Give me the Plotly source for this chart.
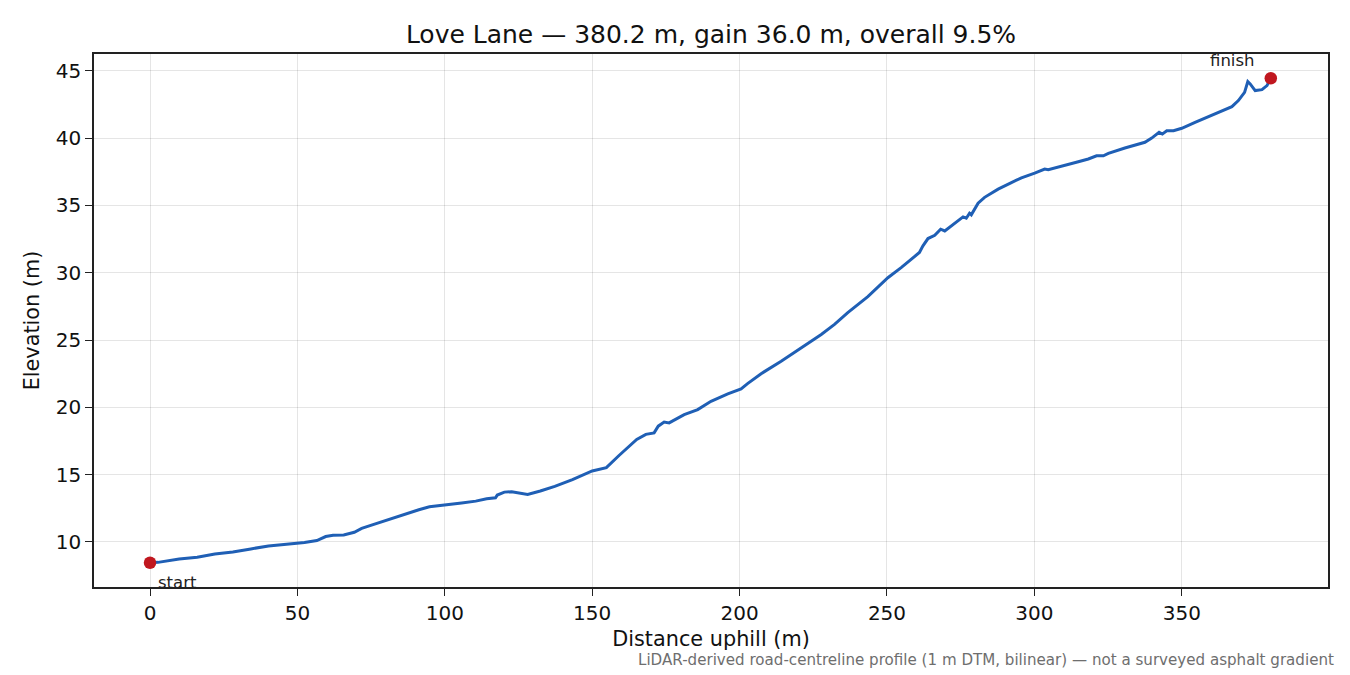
"""
Love Lane elevation profile (LiDAR road-centreline)
"""
import plotly.graph_objects as go

# distance along the road (m) and elevation (m)
dist_m = [0, 2.7, 9.9, 16, 22, 28.1, 34.2, 40.2, 46.3, 52.4,
          56.6, 59.6, 62.1, 65.7, 69.3, 71.8, 75.4, 81.5, 86.3, 91.2,
          94.8, 99.6, 105.7, 110.5, 114.2, 117.2, 117.8, 120.2, 122.7, 128.1,
          132.4, 137.3, 143.3, 150, 154.8, 159.1, 165.1, 168.2, 171, 172.4,
          174.4, 176.1, 181.2, 185.8, 190.3, 196, 200.5, 202.7, 207.3, 214.1,
          220.9, 227.7, 232.2, 236.7, 243.5, 248, 250.3, 254.8, 259.4, 261,
          262.2, 263.9, 266.2, 268.2, 269.6, 271.8, 274.1, 275.8, 276.9, 278,
          278.6, 280.9, 283.1, 287.7, 292.2, 295.6, 300.1, 303.5, 304.7, 310.3,
          314.9, 318.3, 321.1, 323.4, 325.1, 330.7, 337.5, 339.8, 342.3, 343.4,
          344.9, 347.2, 350.0, 354.5, 359.1, 362.5, 365.3, 367.0, 369.2, 371.3,
          372.4, 373.2, 374.9, 377.2, 378.9, 380.2]
elev_m = [8.45, 8.48, 8.73, 8.86, 9.1, 9.25, 9.48, 9.7, 9.83, 9.95,
          10.1, 10.4, 10.5, 10.52, 10.72, 11.0, 11.27, 11.7, 12.09, 12.39,
          12.61, 12.71, 12.89, 13.03, 13.21, 13.28, 13.48, 13.7, 13.73, 13.53,
          13.78, 14.13, 14.63, 15.27, 15.52, 16.42, 17.61, 17.99, 18.1, 18.6,
          18.9, 18.84, 19.46, 19.83, 20.45, 21.0, 21.37, 21.76, 22.5, 23.43,
          24.42, 25.41, 26.16, 27.03, 28.22, 29.14, 29.63, 30.38, 31.25, 31.5,
          32.0, 32.54, 32.78, 33.23, 33.1, 33.48, 33.85, 34.15, 34.05, 34.42,
          34.3, 35.17, 35.6, 36.21, 36.7, 37.05, 37.4, 37.7, 37.65, 37.95,
          38.25, 38.45, 38.69, 38.69, 38.87, 39.27, 39.69, 40.0, 40.43, 40.3,
          40.55, 40.55, 40.73, 41.17, 41.62, 41.92, 42.22, 42.34, 42.79, 43.4,
          44.2, 44.03, 43.53, 43.6, 43.9, 44.45]
assert len(dist_m) == len(elev_m)

end_labels = ['start', 'finish']
title_text = 'Love Lane — 380.2 m, gain 36.0 m, overall 9.5%'
note_text = 'LiDAR-derived road-centreline profile (1 m DTM, bilinear) — not a surveyed asphalt gradient'

FONT = 'DejaVu Sans'
LINE_BLUE = '#1f5fb5'
DOT_RED = '#c0171f'

# page has an 8px body margin, so the figure is shifted/shrunk to fit the window
FIG_W, FIG_H = 1334, 667

fig = go.Figure()

# profile line
fig.add_trace(go.Scatter(
    x=dist_m, y=elev_m,
    mode='lines',
    line=dict(color=LINE_BLUE, width=3),
    showlegend=False
))

# start / finish markers
end_x = [dist_m[0], dist_m[-1]]
end_y = [elev_m[0], elev_m[-1]]
fig.add_trace(go.Scatter(
    x=end_x, y=end_y,
    mode='markers',
    marker=dict(color=DOT_RED, size=12.5),
    showlegend=False
))

fig.add_annotation(x=end_x[0], y=end_y[0], text=end_labels[0],
                   showarrow=False, xanchor='left', yanchor='top',
                   xshift=6, yshift=-8,
                   font=dict(family=FONT, size=16.5, color='#222'))
fig.add_annotation(x=end_x[1], y=end_y[1], text=end_labels[1],
                   showarrow=False, xanchor='right', yanchor='bottom',
                   xshift=-14, yshift=6,
                   font=dict(family=FONT, size=16.5, color='#222'))

# footnote
fig.add_annotation(x=1.0065, y=-0.137, xref='paper', yref='paper',
                   text=note_text, showarrow=False,
                   xanchor='right', yanchor='middle',
                   font=dict(family=FONT, size=15.1, color='#6e6e6e'))

axis_common = dict(
    showline=True, linecolor='#222', linewidth=1.6, mirror=True,
    ticks='outside', ticklen=7, tickwidth=1.4, tickcolor='#222',
    showgrid=True, gridcolor='rgba(0,0,0,0.1)', gridwidth=1.2,
    zeroline=False,
    tickfont=dict(family=FONT, size=20, color='#111'),
)

fig.update_xaxes(
    range=[-19.0, 399.6], tickvals=[0, 50, 100, 150, 200, 250, 300, 350],
    title=dict(text='Distance uphill (m)', standoff=8,
               font=dict(family=FONT, size=20.8, color='#111')),
    **axis_common
)
fig.update_yaxes(
    range=[6.65, 46.25], tickvals=[10, 15, 20, 25, 30, 35, 40, 45],
    title=dict(text='Elevation (m)', standoff=10,
               font=dict(family=FONT, size=20.8, color='#111')),
    **axis_common
)

fig.update_layout(
    title=dict(text=title_text, x=0.5, xref='paper', xanchor='center',
               y=1 - 26 / FIG_H, yref='container', yanchor='middle',
               font=dict(family=FONT, size=25, color='#111')),
    width=FIG_W, height=FIG_H,
    margin=dict(l=86, r=14, t=46, b=88),
    plot_bgcolor='white', paper_bgcolor='white',
    font=dict(family=FONT),
)

fig.write_html('out.html')
